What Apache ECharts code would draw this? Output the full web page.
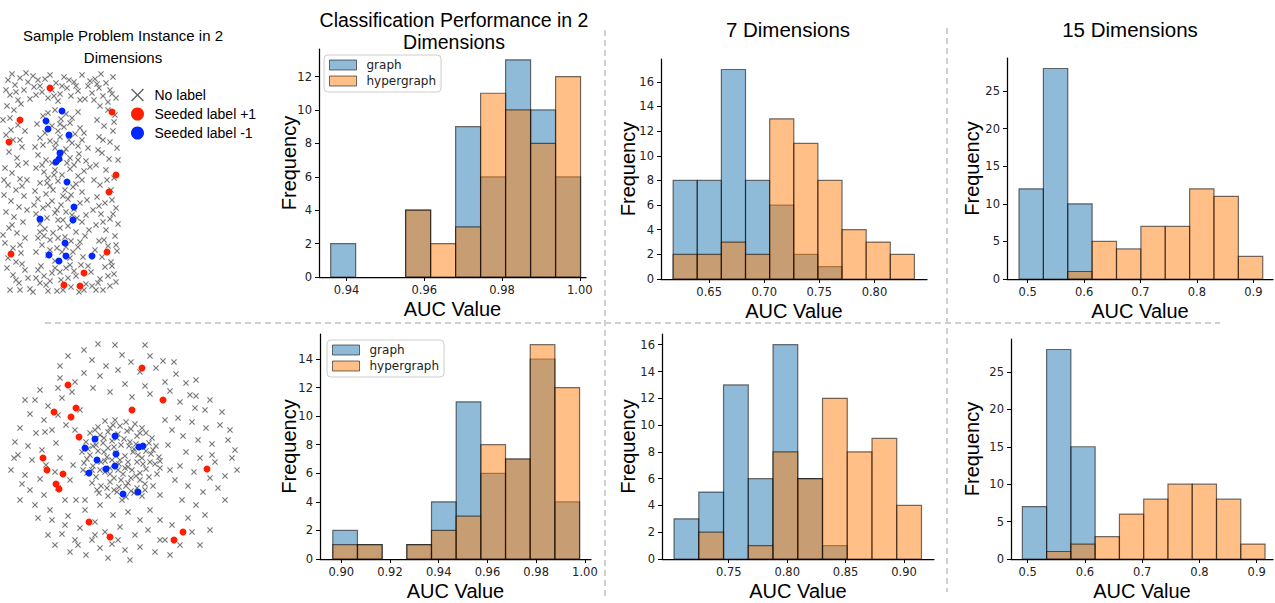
<!DOCTYPE html>
<html><head><meta charset="utf-8">
<script src="https://cdn.jsdelivr.net/npm/echarts@6/dist/echarts.min.js"></script>
<style>html,body{margin:0;padding:0;background:#fff}#c{width:1275px;height:603px}</style>
</head><body><div id="c"></div><script>
// ---------- DATA ----------
// Sample problem instance, top row (rectangular frame + central block), picture coordinates
const unlabeledTop = [
[8,80],[12,74],[15,85],[20,78],[24,90],[28,82],[33,76],[36,95],[40,86],[45,79],[48,98],[52,90],[56,83],[60,94],[64,77],[67,88],[71,96],[74,82],[78,91],[82,75],[85,99],[88,86],[92,93],[95,79],[99,88],[103,96],[106,83],[110,90],[113,77],[116,98],[10,95],[18,100],[30,99],[42,92],[58,101],[69,80],[80,100],[90,81],[101,74],[62,86],[26,73],[50,75],[34,87],[94,100],[108,102],
[7,106],[14,110],[21,104],[10,118],[18,125],[25,131],[6,135],[13,140],[22,147],[9,152],[17,158],[26,163],[5,168],[12,173],[20,179],[8,185],[16,190],[24,196],[11,201],[19,207],[6,212],[14,217],[23,222],[9,228],[17,233],[25,238],[5,243],[13,248],[21,253],[8,258],[16,262],[27,210],[27,180],[4,195],[20,140],
[100,106],[108,110],[115,115],[97,120],[104,126],[113,131],[99,137],[110,142],[117,148],[102,153],[109,159],[96,165],[106,170],[114,178],[100,185],[111,190],[97,197],[105,203],[116,208],[101,214],[110,219],[96,225],[106,230],[115,236],[99,241],[108,246],[117,251],[102,257],[111,262],[94,180],[93,210],[118,224],[98,150],[112,200],[104,240],
[7,268],[13,275],[19,283],[25,270],[30,289],[36,278],[41,266],[46,285],[52,273],[57,291],[61,280],[66,268],[71,287],[76,276],[81,265],[86,284],[91,272],[96,290],[100,279],[105,267],[110,286],[114,274],[10,290],[22,264],[33,292],[44,276],[55,268],[68,278],[79,292],[88,266],[98,283],[108,276],[16,280],[40,283],[63,290],[92,286],[116,282],[28,278],[50,281],[74,271],
[55,110],[66,114],[72,118],[43,116],[61,119],[78,112],
[37,124],[52,126],[70,123],[80,128],[58,131],[45,133],[75,134],[64,127],
[40,138],[50,141],[60,137],[72,143],[82,140],[35,147],[55,148],[66,149],[78,146],[88,148],
[38,155],[46,160],[64,152],[70,158],[79,154],[86,161],[52,163],[74,165],
[36,168],[44,172],[55,170],[62,175],[70,169],[78,176],[84,171],[48,178],[90,167],
[40,183],[50,186],[58,181],[65,190],[76,184],[82,192],[35,191],[46,194],[71,195],
[38,199],[52,201],[61,205],[68,199],[80,203],[43,208],[57,210],[74,209],[87,200],
[36,214],[47,218],[55,213],[63,220],[72,215],[82,222],[40,224],[68,226],
[45,229],[53,233],[60,228],[76,232],[85,236],[38,238],[50,240],[65,237],[71,241],
[42,245],[57,248],[62,252],[78,247],[48,255],[70,258],[55,261],[83,257],[36,252],
[6,90],[16,92],[38,80],[54,96],[76,86],[97,84],[112,94],[3,120],[11,130],[18,165],[4,180],[22,186],[12,225],[3,235],[20,245],[114,122],[103,140],[118,160],[107,180],[99,206],[113,214],[103,222],[116,245],[95,250],[20,290],[38,270],[48,291],[60,272],[84,290],[103,290],[112,266],[70,265],
[48,113],[60,124],[84,133],[43,145],[69,140],[60,158],[42,165],[67,163],[82,180],[53,190],[63,196],[86,215],[48,205],[66,212],[58,220],[77,218],[44,236],[58,238],[80,242],[50,250],[66,247],[40,232],[73,252],[89,230],[54,175],[73,187],[34,205],[78,160],[56,143],[47,183]
];
const seededPosTop = [[50,88],[112,112],[20,120],[9,142],[116,175],[109,192],[11,254],[107,252],[84,273],[64,285],[80,286]];
const seededNegTop = [[62,111],[46,121],[48,129],[69,135],[60,153],[59,159],[56,162],[67,182],[74,207],[40,219],[73,220],[65,243],[49,255],[66,256],[59,261],[92,256]];

// Sample problem instance, bottom row (dense disk + outer ring), picture coordinates
const unlabeledBottom = [
[105,421],[115,420],[126,422],[135,424],[98,427],[110,428],[120,426],[131,429],[142,428],
[90,433],[100,435],[108,432],[118,434],[127,431],[137,436],[146,433],[95,439],[124,439],[152,438],
[86,442],[93,446],[103,443],[112,441],[121,445],[130,442],[140,447],[149,443],[156,446],[108,448],[134,449],
[82,452],[90,455],[98,451],[107,457],[116,453],[125,456],[133,452],[142,458],[151,454],[159,457],[87,459],[120,460],[146,451],
[84,463],[93,466],[101,462],[110,468],[119,464],[128,467],[137,462],[146,469],[155,464],[160,468],[105,461],[132,470],
[87,473],[96,477],[105,472],[114,478],[123,474],[131,478],[140,473],[149,477],[157,474],[118,470],
[92,483],[101,486],[110,482],[119,487],[128,483],[137,488],[145,484],[153,486],[114,490],
[99,493],[108,496],[117,492],[126,497],[134,493],[142,496],[122,500],
[96,445],[114,447],[138,455],[128,462],[100,470],[150,462],[112,460],[126,486],[140,480],[104,438],[136,444],
[95,430],[113,425],[140,433],[88,449],[104,452],[129,446],[153,450],[92,470],[110,474],[136,476],[97,490],[131,491],[145,490],[160,461],[83,470],[117,438],[125,468],[143,464],[107,488],[121,480],
[98,344],[115,345],[68,356],[92,360],[106,366],[131,362],[150,356],[163,361],[84,373],[100,376],[118,370],[140,372],[156,368],[176,374],[60,378],[75,382],[93,388],[125,384],[145,386],[165,382],[186,383],[72,392],[110,392],[150,394],[170,391],[196,396],[58,388],[132,397],
[35,400],[48,406],[62,398],[30,414],[44,420],[58,415],[20,428],[36,433],[52,430],[66,425],[15,442],[28,446],[42,450],[56,443],[18,455],[32,460],[46,465],[60,458],[11,470],[25,475],[40,479],[55,472],[30,490],[44,495],[58,488],[35,505],[50,510],[65,500],[22,484],[70,480],
[180,402],[195,408],[210,400],[178,418],[192,422],[206,428],[220,425],[183,436],[198,440],[212,444],[228,440],[186,452],[200,458],[215,462],[232,458],[180,466],[194,472],[210,478],[225,476],[188,486],[203,492],[218,488],[182,500],[196,505],[235,450],[172,430],[175,480],[205,515],
[52,520],[68,516],[80,528],[95,522],[62,534],[78,545],[92,540],[105,532],[120,527],[135,535],[148,530],[160,520],[172,525],[188,518],[55,545],[70,552],[86,555],[100,548],[112,544],[125,550],[140,547],[155,552],[165,540],[180,545],[192,532],[140,520],[113,515],[150,510],[85,510],[100,505],[128,512],[76,500],
[75,430],[80,410],[165,420],[170,470],[160,495],[85,500],[73,465],[168,445],
[84,350],[122,355],[145,345],[60,366],[174,362],[196,380],[205,410],[222,412],[230,430],[40,390],[25,400],[14,458],[20,500],[38,518],[65,525],[108,558],[130,560],[170,555],[200,545],[210,530],[225,500],[237,470],[45,432],[190,395],[212,455],[75,540],[160,540],[118,540],[95,535],[48,535]
];
const seededPosBottom = [[142,368],[68,385],[163,400],[54,412],[76,408],[71,417],[132,410],[79,437],[43,458],[47,470],[63,474],[56,484],[59,489],[207,469],[89,522],[110,537],[183,532],[174,540]];
const seededNegBottom = [[95,439],[115,436],[85,448],[139,447],[143,446],[116,454],[97,460],[106,469],[115,466],[89,473],[123,494],[138,492]];

// Histogram counts (10 bins each)
const graph2DTop    = [2,0,0,4,0,9,6,13,10,6];
const hyper2DTop    = [0,0,0,4,2,3,11,10,8,12];
const graph2DBottom = [2,1,0,1,4,11,6,7,14,4];
const hyper2DBottom = [1,1,0,1,2,3,8,7,15,12];
const graph7DTop    = [8,8,17,8,6,2,1,0,0,0];
const hyper7DTop    = [2,2,3,2,13,11,8,4,3,2];
const graph7DBottom = [3,5,13,6,16,6,1,0,0,0];
const hyper7DBottom = [0,2,0,1,8,6,12,8,9,4];
const graph15DTop    = [12,28,10,0,0,0,0,0,0,0];
const hyper15DTop    = [0,0,1,5,4,7,7,12,11,3];
const graph15DBottom = [7,28,15,0,0,0,0,0,0,0];
const hyper15DBottom = [0,1,2,3,6,8,10,10,8,2];

// Bin edges: first edge and bin width (AUC)
const bins2DTop = [0.9359, 0.00643];
const bins2DBottom = [0.89655, 0.010126];
const bins7DTop = [0.6173, 0.0219];
const bins7DBottom = [0.7032, 0.02117];
const bins15DTop = [0.4846, 0.04321];
const bins15DBottom = [0.4906, 0.04239];

// Tick labels
const xTicks2DTop = [0.94,0.96,0.98,1.00];
const xTicks2DBottom = [0.90,0.92,0.94,0.96,0.98,1.00];
const xTicks7DTop = [0.65,0.70,0.75,0.80];
const xTicks7DBottom = [0.75,0.80,0.85,0.90];
const xTicks15D = [0.5,0.6,0.7,0.8,0.9];
const yTicks2DTop = [0,2,4,6,8,10,12];
const yTicks2DBottom = [0,2,4,6,8,10,12,14];
const yTicks7D = [0,2,4,6,8,10,12,14,16];
const yTicks15D = [0,5,10,15,20,25];

// ---------- LAYOUT ----------
const panels = [
 {grid:{left:319,top:49,width:267,height:228}, xMin:0.9329, xMax:1.0016, yMax:13.65, xTicks:xTicks2DTop, yTicks:yTicks2DTop, dec:2, bins:bins2DTop, g:graph2DTop, h:hyper2DTop, yGap:20},
 {grid:{left:320,top:334,width:271,height:225}, xMin:0.8913, xMax:1.0025, yMax:15.75, xTicks:xTicks2DBottom, yTicks:yTicks2DBottom, dec:2, bins:bins2DBottom, g:graph2DBottom, h:hyper2DBottom, yGap:21},
 {grid:{left:661,top:59,width:266,height:220}, xMin:0.6063, xMax:0.8477, yMax:17.85, xTicks:xTicks7DTop, yTicks:yTicks7D, dec:2, bins:bins7DTop, g:graph7DTop, h:hyper7DTop, yGap:23},
 {grid:{left:662,top:334,width:272,height:225}, xMin:0.6929, xMax:0.9256, yMax:16.8, xTicks:xTicks7DBottom, yTicks:yTicks7D, dec:2, bins:bins7DBottom, g:graph7DBottom, h:hyper7DBottom, yGap:24},
 {grid:{left:1007,top:58,width:266,height:221}, xMin:0.4633, xMax:0.9349, yMax:29.4, xTicks:xTicks15D, yTicks:yTicks15D, dec:1, bins:bins15DTop, g:graph15DTop, h:hyper15DTop, yGap:25},
 {grid:{left:1011,top:339,width:262,height:220}, xMin:0.4708, xMax:0.9284, yMax:29.4, xTicks:xTicks15D, yTicks:yTicks15D, dec:1, bins:bins15DBottom, g:graph15DBottom, h:hyper15DBottom, yGap:29}
];

const RED = '#ff1e00', BLUE = '#0028ff', GREY = '#7a7a7a';
const BLUE_FILL = 'rgba(31,119,180,0.5)', ORANGE_FILL = 'rgba(255,127,14,0.5)', EDGE = 'rgba(0,0,0,0.55)';
const xSym = 'path://M0,1.4L1.4,0L5,3.6L8.6,0L10,1.4L6.4,5L10,8.6L8.6,10L5,6.4L1.4,10L0,8.6L3.6,5Z';
const xSymThin = 'path://M0,0.8L0.8,0L5,4.2L9.2,0L10,0.8L5.8,5L10,9.2L9.2,10L5,5.8L0.8,10L0,9.2L4.2,5Z';
const SANS = 'Liberation Sans, Arial, Helvetica, sans-serif';
const DEJA = 'DejaVu Sans, sans-serif';

function toBins(spec, counts){ return counts.map((c,k)=>[spec[0]+k*spec[1], spec[0]+(k+1)*spec[1], c]); }
function rectRender(fill){
  return function(params, api){
    const c = api.value(2);
    if (!c) return null;
    const p0 = api.coord([api.value(0), c]);
    const p1 = api.coord([api.value(1), 0]);
    return {type:'rect', shape:{x:p0[0], y:p0[1], width:p1[0]-p0[0], height:p1[1]-p0[1]},
            style:{fill:fill, stroke:EDGE, lineWidth:1.2}};
  };
}

const grids = [{left:0, top:0, width:270, height:603}];
const xAxes = [{gridIndex:0, type:'value', min:0, max:270, show:false}];
const yAxes = [{gridIndex:0, type:'value', min:0, max:603, inverse:true, show:false}];
const series = [
 {type:'scatter', name:'No label', xAxisIndex:0, yAxisIndex:0, data:unlabeledTop.concat(unlabeledBottom), symbol:xSym, symbolSize:6, itemStyle:{color:GREY, opacity:1}, silent:true},
 {type:'scatter', name:'Seeded label +1', xAxisIndex:0, yAxisIndex:0, data:seededPosTop.concat(seededPosBottom), symbol:'circle', symbolSize:7, itemStyle:{color:RED, opacity:1}, silent:true, z:3},
 {type:'scatter', name:'Seeded label -1', xAxisIndex:0, yAxisIndex:0, data:seededNegTop.concat(seededNegBottom), symbol:'circle', symbolSize:7, itemStyle:{color:BLUE, opacity:1}, silent:true, z:3}
];

panels.forEach((p, i) => {
  const gi = i + 1;
  grids.push(p.grid);
  xAxes.push({gridIndex:gi, type:'value', min:p.xMin, max:p.xMax,
    name:'AUC Value', nameLocation:'middle', nameGap:22, nameMoveOverlap:false,
    nameTextStyle:{fontFamily:SANS, fontSize:20, color:'#000'},
    axisLine:{show:true, onZero:false, lineStyle:{color:'#000', width:1.25}},
    axisTick:{show:true, length:4, lineStyle:{color:'#000', width:1}, customValues:p.xTicks},
    axisLabel:{customValues:p.xTicks, formatter:v=>Number(v).toFixed(p.dec), fontFamily:DEJA, fontSize:11.5, color:'#222', margin:7},
    splitLine:{show:false}});
  yAxes.push({gridIndex:gi, type:'value', min:0, max:p.yMax,
    name:'Frequency', nameLocation:'middle', nameGap:p.yGap, nameRotate:90, nameMoveOverlap:false,
    nameTextStyle:{fontFamily:SANS, fontSize:20, color:'#000'},
    axisLine:{show:true, onZero:false, lineStyle:{color:'#000', width:1.25}},
    axisTick:{show:true, length:4, lineStyle:{color:'#000', width:1}, customValues:p.yTicks},
    axisLabel:{customValues:p.yTicks, formatter:v=>String(Math.round(v)), fontFamily:DEJA, fontSize:11.5, color:'#222', margin:7},
    splitLine:{show:false}});
  series.push({type:'custom', name:'graph', xAxisIndex:gi, yAxisIndex:gi, data:toBins(p.bins, p.g),
    encode:{x:[0,1], y:2}, renderItem:rectRender(BLUE_FILL), itemStyle:{color:'#8fbbd9'}, silent:true, z:2});
  series.push({type:'custom', name:'hypergraph', xAxisIndex:gi, yAxisIndex:gi, data:toBins(p.bins, p.h),
    encode:{x:[0,1], y:2}, renderItem:rectRender(ORANGE_FILL), itemStyle:{color:'#ffbf86'}, silent:true, z:3});
});

function histLegend(left, top){
  return {left:left, top:top, orient:'vertical', itemWidth:27, itemHeight:10, itemGap:4,
    padding:[4,5,5,5], borderColor:'#cccccc', borderWidth:1, borderRadius:4, backgroundColor:'rgba(255,255,255,0.85)',
    selectedMode:false, textStyle:{fontFamily:DEJA, fontSize:12, color:'#222', padding:[0,0,0,5]},
    data:[{name:'graph', icon:'rect', itemStyle:{color:BLUE_FILL, borderColor:EDGE, borderWidth:1}},
          {name:'hypergraph', icon:'rect', itemStyle:{color:ORANGE_FILL, borderColor:EDGE, borderWidth:1}}]};
}

const dash = {stroke:'#cfcfcf', lineWidth:2, lineDash:[6,4]};
function txt(x, y, s, size){ return {type:'text', x:x, y:y, silent:true, style:{text:s, fontFamily:SANS, fontSize:size, fill:'#000', textAlign:'center', textVerticalAlign:'middle'}}; }

const option = {
  animation:false,
  backgroundColor:'#fff',
  grid:grids, xAxis:xAxes, yAxis:yAxes, series:series,
  legend:[
    {left:131, top:88, orient:'vertical', itemWidth:18, itemHeight:13, itemGap:5, selectedMode:false, padding:0,
     textStyle:{fontFamily:SANS, fontSize:14, color:'#000', padding:[0,0,0,3]},
     data:[{name:'No label', icon:xSymThin, itemStyle:{color:'#666'}},
           {name:'Seeded label +1', icon:'circle', itemStyle:{color:RED}},
           {name:'Seeded label -1', icon:'circle', itemStyle:{color:BLUE}}]},
    histLegend(324, 55),
    histLegend(327, 340)
  ],
  graphic:[
    {type:'line', silent:true, shape:{x1:605, y1:30, x2:605, y2:600}, style:dash},
    {type:'line', silent:true, shape:{x1:947, y1:28, x2:947, y2:592}, style:dash},
    {type:'line', silent:true, shape:{x1:45, y1:323, x2:1220, y2:323}, style:dash},
    txt(123, 35, 'Sample Problem Instance in 2', 15),
    txt(123, 57, 'Dimensions', 15),
    txt(454, 20, 'Classification Performance in 2', 19.5),
    txt(454, 42, 'Dimensions', 19.5),
    txt(788, 29, '7 Dimensions', 20.5),
    txt(1130, 29, '15 Dimensions', 20.5)
  ]
};
const chart = echarts.init(document.getElementById('c'), null, {renderer:'svg', width:1275, height:603});
chart.setOption(option);
</script></body></html>
